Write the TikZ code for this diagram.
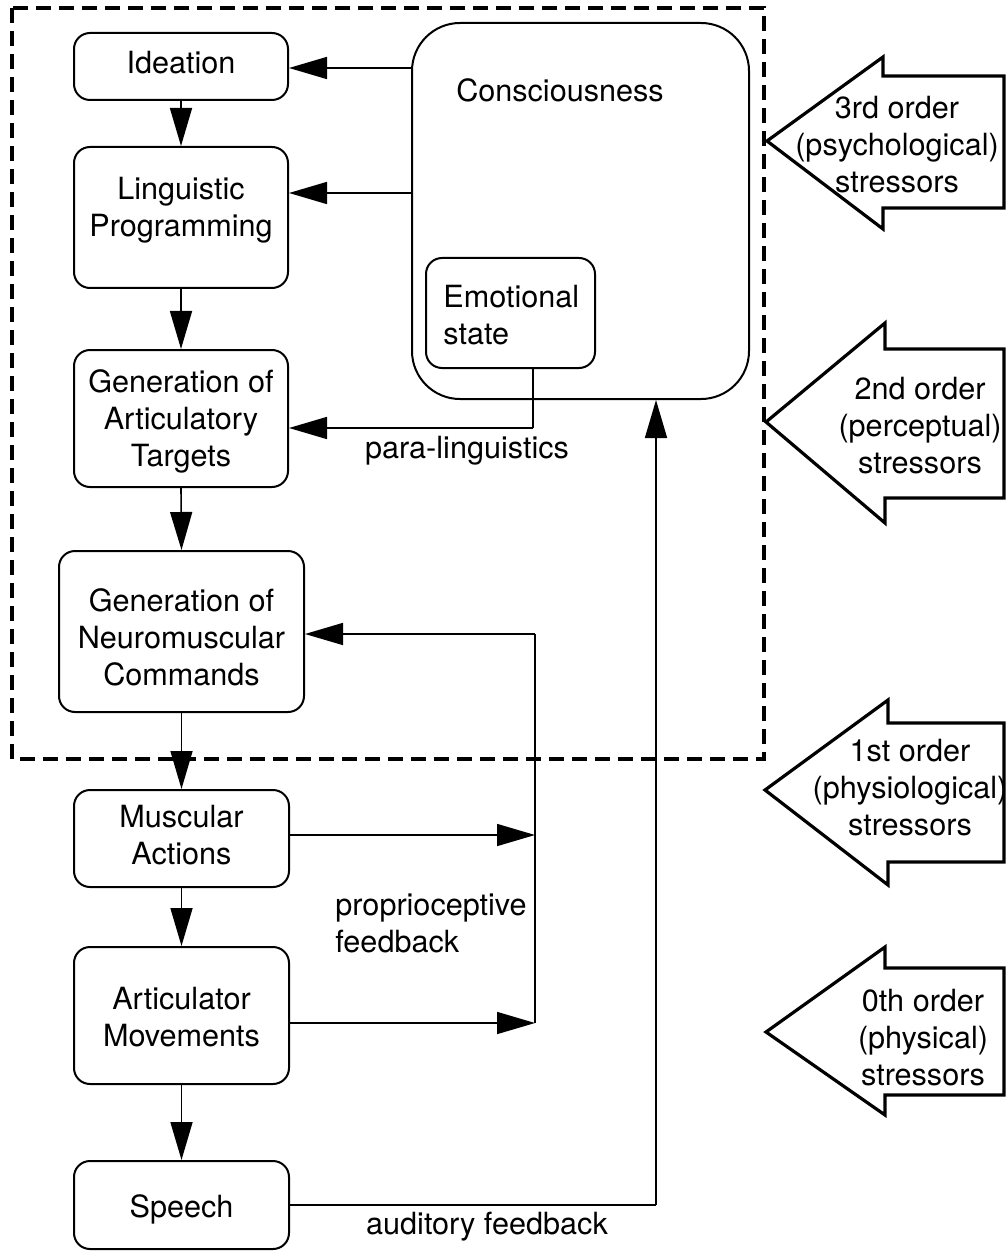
\documentclass[tikz,border=0pt]{standalone}
\usepackage{fontspec}
\setmainfont{TeX Gyre Heros}
\usetikzlibrary{arrows.meta,calc}
\begin{document}
\begin{tikzpicture}[x=0.5pt,y=-0.5pt,
  font=\fontsize{15.3}{18.5}\selectfont,
  box/.style={draw,line width=1pt,rounded corners=8pt,inner sep=0pt},
  arr/.style={line width=0.8pt,-{Triangle[length=19pt,width=11pt]}},
  conn/.style={line width=0.8pt},
  stress/.style={draw,line width=1.6pt,line join=miter},
  lbl/.style={align=center,inner sep=0pt}]
\useasboundingbox (0,0) rectangle (1006,1251);
% dashed frame
\draw[line width=1.8pt,dash pattern=on 7.5pt off 4pt] (12,8) rectangle (764,759);
% boxes
\node[box,minimum width=107pt,minimum height=33.5pt] (ideation) at (181,66.5) {};
\node[lbl] (ideation-t) at (181,63) {Ideation};
\node[box,minimum width=107pt,minimum height=70.5pt] (lp) at (181,217.5) {};
\node[lbl] (lp-t) at (181,210) {Linguistic\\Programming};
\node[box,minimum width=107pt,minimum height=68.5pt] (gat) at (181,418.5) {};
\node[lbl] (gat-t) at (181,421) {Generation of\\Articulatory\\Targets};
\node[box,minimum width=122.5pt,minimum height=80.5pt] (gnc) at (181.5,631.5) {};
\node[lbl] (gnc-t) at (181.5,637) {Generation of\\Neuromuscular\\Commands};
\node[box,minimum width=107.5pt,minimum height=48.5pt] (ma) at (181.5,838.5) {};
\node[lbl] (ma-t) at (181.5,835) {Muscular\\Actions};
\node[box,minimum width=107.5pt,minimum height=68.5pt] (am) at (181.5,1015.5) {};
\node[lbl] (am-t) at (181.5,1017) {Articulator\\Movements};
\node[box,minimum width=107.5pt,minimum height=44pt] (speech) at (181.5,1205) {};
\node[lbl] (speech-t) at (181.5,1209) {Speech};
\node[box,rounded corners=24pt,minimum width=168.5pt,minimum height=188pt] (cons) at (580.5,211) {};
\node[lbl] (cons-t) at (560,90) {Consciousness};
\node[box,minimum width=84.5pt,minimum height=55pt] (emo) at (510.5,313) {};
\node[lbl,align=left,anchor=west] (emo-t) at (443,315) {Emotional\\state};
% vertical flow
\draw[arr] (ideation.south) -- (lp.north);
\draw[arr] (lp.south) -- (gat.north);
\draw[arr] (gat.south) -- (gnc.north);
\draw[arr] (gnc.south) -- (ma.north);
\draw[arr] (ma.south) -- (am.north);
\draw[arr] (am.south) -- (speech.north);
% consciousness to left boxes
\coordinate (c1) at (412,68);
\coordinate (c2) at (412,193);
\draw[arr] (c1) -- (c1 -| ideation.east);
\draw[arr] (c2) -- (c2 -| lp.east);
% para-linguistics
\coordinate (pl) at (533,428);
\draw[conn] (emo.south -| pl) -- (pl);
\draw[arr] (pl) -- (pl -| gat.east);
\node[lbl] (pl-t) at (467,451) {para-linguistics};
% proprioceptive feedback
\coordinate (fbtop) at (535,634);
\coordinate (fbbot) at (535,1023);
\draw[conn] (fbtop) -- (fbbot);
\draw[arr] (fbtop) -- (fbtop -| gnc.east);
\draw[arr] (ma.east |- 0,835) -- (fbtop |- 0,835);
\draw[arr] (am.east |- fbbot) -- (fbbot);
\node[lbl,align=left,anchor=west] (pf-t) at (335,923) {proprioceptive\\feedback};
% auditory feedback
\coordinate (aud) at (656,1205);
\draw[conn] (speech.east) -- (aud);
\draw[arr] (aud) -- (aud |- cons.south);
\node[lbl] (af-t) at (487,1227) {auditory feedback};
% stressor arrows
\draw[stress] (767,141) -- (883,57) -- (883,76) -- (1004,76) -- (1004,208) -- (883,208) -- (883,229) -- cycle;
\node[lbl] (s3) at (897,145) {3rd order\\(psychological)\\stressors};
\draw[stress] (766,422) -- (885,323) -- (885,349) -- (1004,349) -- (1004,498) -- (885,498) -- (885,523) -- cycle;
\node[lbl] (s2) at (920,426) {2nd order\\(perceptual)\\stressors};
\draw[stress] (765,790) -- (888,700) -- (888,723) -- (1004,723) -- (1004,862) -- (888,862) -- (888,885) -- cycle;
\node[lbl] (s1) at (910,788) {1st order\\(physiological)\\stressors};
\draw[stress] (766,1032) -- (885,947) -- (885,968) -- (1004,968) -- (1004,1095) -- (885,1095) -- (885,1115) -- cycle;
\node[lbl] (s0) at (923,1038) {0th order\\(physical)\\stressors};
\end{tikzpicture}
\end{document}
